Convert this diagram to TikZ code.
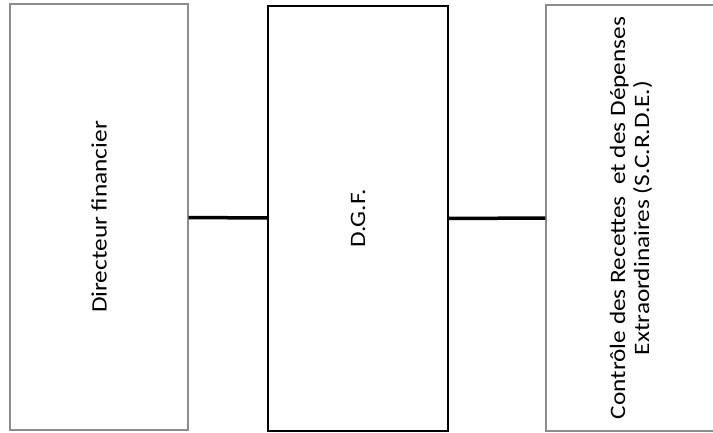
\documentclass[tikz,border=0pt]{standalone}
\usepackage{fontspec}
\newfontfamily\boxfont[FakeStretch=1.15]{Carlito}
\usepackage{tikz}
\usetikzlibrary{positioning}

\begin{document}
\begin{tikzpicture}[x=1pt, y=-1pt,
    box/.style={draw=Gray, line width=1.2pt, rotate=90, align=center,
        inner sep=0pt, font=\boxfont\fontsize{22}{24}\selectfont},
    mainbox/.style={box, draw=black, line width=2pt},
    link/.style={line width=3.5pt},
    ]
    \definecolor{Gray}{HTML}{8C8C8C}
    \useasboundingbox (0,0) rectangle (713,432);
    \node [box, minimum width=426pt, minimum height=178pt] (dir) at (99,217) {Directeur financier};
    \node [mainbox, minimum width=425pt, minimum height=180pt] (dgf) at (358,218.5) {D.G.F.};
    \node [box, minimum width=426pt, minimum height=170pt] (scrde) at (631,218)
        {Contrôle des Recettes \ et des Dépenses\\Extraordinaires (S.C.R.D.E.)};
    \draw [link] (dir) -- (dgf);
    \draw [link] (dgf) -- (scrde);
\end{tikzpicture}
\end{document}
